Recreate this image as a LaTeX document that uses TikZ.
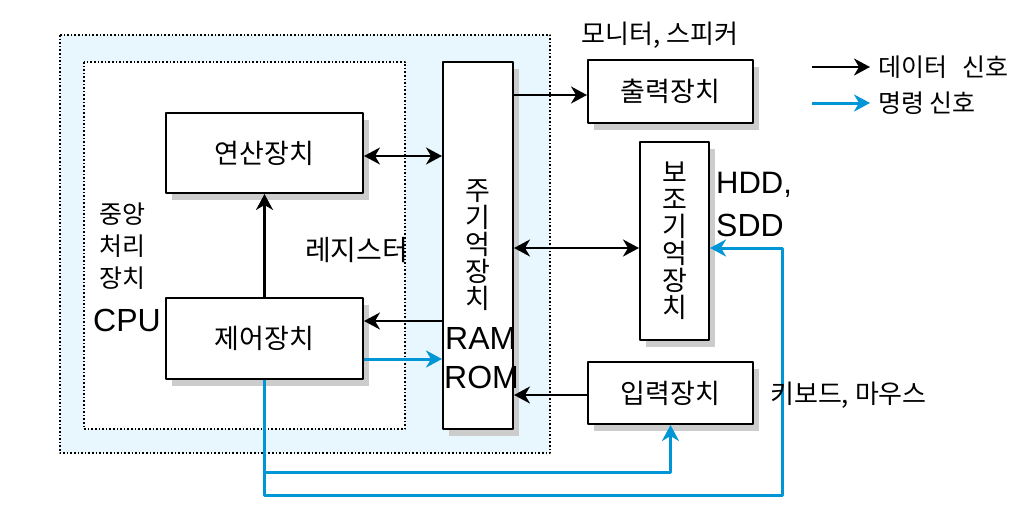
\documentclass[tikz,border=0pt]{standalone}
\usepackage{fontspec}
\setmainfont{Noto Sans CJK KR}
\newfontfamily\latinfont{Liberation Sans}
\usetikzlibrary{arrows.meta}
\definecolor{cmdblue}{RGB}{0,150,214}
\definecolor{cpubg}{RGB}{232,246,253}
\tikzset{
  unit/.style={draw, line width=2pt, fill=white, inner sep=0pt,
    font=\fontsize{27}{27}\selectfont,
    preaction={draw=none, fill=black!20, transform canvas={xshift=6pt,yshift=-7pt}}},
  vunit/.style={unit, align=center, font=\fontsize{27}{27}\selectfont},
  data/.style={line width=2.2pt, ->},
  cmd/.style={data, cmdblue, line width=3pt},
  lbl/.style={inner sep=0pt, font=\fontsize{26}{32}\selectfont},
  big/.style={inner sep=0pt, font=\latinfont\fontsize{32}{38}\selectfont},
  zone/.style={line width=1.6pt, dash pattern=on 1.6pt off 2pt}
}
\begin{document}
\begin{tikzpicture}[x=1pt, y=-1pt, line join=round, >={Stealth[length=16pt,width=17pt,inset=5pt]}]
	\useasboundingbox (0,0) rectangle (1033,512);
	% cpu zones
	\draw[zone, fill=cpubg] (60,35) rectangle (550,453);
	\draw[zone, fill=white] (84,62) rectangle (405,429);
	% units
	\node[unit, minimum width=197pt, minimum height=80pt] (alu) at (264.5,153) {연산장치};
	\node[unit, minimum width=197pt, minimum height=81pt] (cu) at (264.5,338.5) {제어장치};
	\node[vunit, minimum width=70pt, minimum height=367pt] (mem) at (478,245.5) {주\\기\\억\\장\\치};
	\node[unit, minimum width=165pt, minimum height=63pt] (out) at (670.5,91.5) {출력장치};
	\node[vunit, minimum width=69pt, minimum height=198pt] (aux) at (674.5,241) {보\\조\\기\\억\\장\\치};
	\node[unit, minimum width=165pt, minimum height=62pt] (in) at (670.5,393) {입력장치};
	% data signals
	\draw[data,<->] (alu.east |- 0,156) -- (mem.west |- 0,156);
	\draw[data] (cu.north) -- (alu.south);
	\draw[data] (mem.west |- 0,321) -- (cu.east |- 0,321);
	\draw[data] (mem.east |- 0,95) -- (out.west |- 0,95);
	\draw[data,<->] (mem.east |- 0,248) -- (aux.west |- 0,248);
	\draw[data] (in.west |- 0,395) -- (mem.east |- 0,395);
	% control signals
	\coordinate (ret) at (782,495);
	\draw[cmd] (cu.east |- 0,359) -- (mem.west |- 0,359);
	\draw[cmd] (cu.south) |- (in.south |- 0,472) -- (in.south);
	\draw[cmd] (cu.south) |- (ret) |- (aux.east |- 0,248);
	% labels
	\node[lbl, font=\fontsize{25}{32}\selectfont, anchor=west, align=left] (cpuname) at (99,246) {중앙\\처리\\장치};
	\node[big, anchor=west] (cpu) at (93,320) {CPU};
	\node[lbl, font=\fontsize{28}{30}\selectfont, anchor=west] (reg) at (305,250) {레지스터};
	\node[big, anchor=west] (ram) at (445,338) {RAM};
	\node[big, anchor=west] (rom) at (444,377) {ROM};
	\node[big, anchor=west, font=\latinfont\fontsize{31}{36}\selectfont] (hdd) at (716,185) {HDD,};
	\node[big, anchor=west] (sdd) at (716,225) {SDD};
	\node[lbl] (outdev) at (660,35) {모니터, 스피커};
	\node[lbl, anchor=west] (indev) at (770,395) {키보드, 마우스};
	% legend
	\coordinate (keyd) at (812,67);
	\coordinate (keyc) at (812,103);
	\node[lbl, font=\fontsize{25}{32}\selectfont, anchor=west] (keydtext) at (878,67) {데이터\hspace{0.6em}신호};
	\node[lbl, font=\fontsize{25}{32}\selectfont, anchor=west] (keyctext) at (878,103) {명령 신호};
	\draw[data] (keyd) -- ([xshift=-8pt]keydtext.west);
	\draw[cmd] (keyc) -- ([xshift=-8pt]keyctext.west);
\end{tikzpicture}
\end{document}
